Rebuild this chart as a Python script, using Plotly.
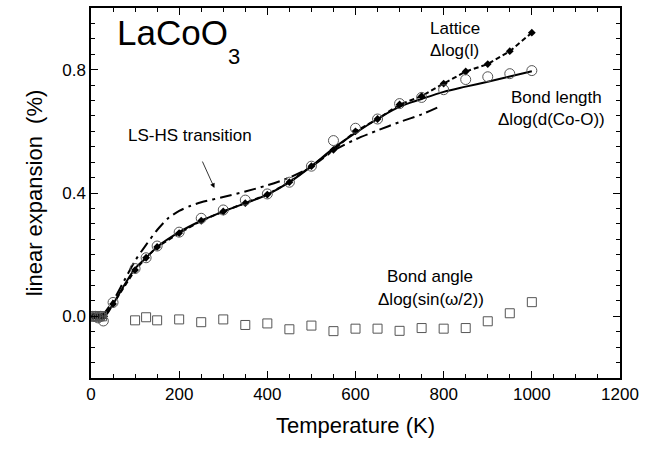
import plotly.graph_objects as go

# Bond length, Delta log(d(Co-O)) -- open circles
bond_T = [4, 10, 16, 22, 28, 50, 100, 125, 150, 200, 250, 300, 350, 400, 450, 500,
          550, 600, 650, 700, 750, 800, 850, 900, 950, 1000]
bond_v = [0.0, 0.0, -0.005, 0.0, -0.015, 0.045, 0.155, 0.19, 0.228, 0.273, 0.318, 0.345,
          0.377, 0.397, 0.435, 0.487, 0.57, 0.61, 0.64, 0.69, 0.71, 0.735, 0.768, 0.777,
          0.787, 0.797]

# Lattice, Delta log(l) -- filled diamonds
lat_T = [5, 10, 15, 20, 25, 30, 50, 100, 125, 150, 200, 250, 300, 350, 400, 450, 500,
         550, 600, 650, 700, 750, 800, 850, 900, 950, 1000]
lat_v = [0.0, 0.0, 0.0, 0.0, 0.0, 0.0, 0.04, 0.15, 0.19, 0.225, 0.27, 0.31, 0.34, 0.367,
         0.395, 0.435, 0.487, 0.54, 0.60, 0.64, 0.687, 0.714, 0.755, 0.794, 0.818, 0.86,
         0.92]

# Bond angle, Delta log(sin(omega/2)) -- open squares
ang_T = [5, 10, 15, 20, 25, 100, 125, 150, 200, 250, 300, 350, 400, 450, 500, 550, 600,
         650, 700, 750, 800, 850, 900, 950, 1000]
ang_v = [0.0, 0.0, 0.0, 0.0, 0.0, -0.013, -0.003, -0.013, -0.01, -0.019, -0.01, -0.028,
         -0.023, -0.042, -0.03, -0.048, -0.04, -0.04, -0.047, -0.038, -0.04, -0.038,
         -0.016, 0.01, 0.046]

# Smooth curve through the bond-length points
fit_T = [0, 30, 50, 75, 100, 125, 150, 200, 250, 300, 350, 400, 450, 500, 550, 600, 650,
         700, 750, 800, 850, 900, 950, 1000]
fit_v = [0.0, 0.0, 0.04, 0.1, 0.155, 0.19, 0.225, 0.273, 0.31, 0.34, 0.367, 0.395, 0.435,
         0.487, 0.545, 0.595, 0.64, 0.68, 0.705, 0.728, 0.745, 0.761, 0.778, 0.795]

# LS-HS transition model curve
lshs_T = [25, 50, 75, 100, 125, 150, 175, 200, 225, 250, 300, 350, 400, 450, 500, 550,
          600, 650, 700, 750, 790]
lshs_v = [0.0, 0.05, 0.115, 0.18, 0.232, 0.28, 0.318, 0.342, 0.358, 0.37, 0.387, 0.405,
          0.425, 0.45, 0.485, 0.537, 0.574, 0.603, 0.63, 0.655, 0.68]

x_ticks = [0, 200, 400, 600, 800, 1000, 1200]
y_ticks = [0.0, 0.4, 0.8]
y_tick_text = ["0.0", "0.4", "0.8"]

FONT = "Liberation Sans, Arial, sans-serif"

fig = go.Figure()

fig.add_trace(go.Scatter(x=lshs_T, y=lshs_v, mode="lines", line_shape="spline",
                         line=dict(color="black", width=2, dash="12px,5px,3px,5px",
                                   smoothing=0.8)))
fig.add_trace(go.Scatter(x=lat_T, y=lat_v, mode="lines+markers",
                         line=dict(color="black", width=2, dash="5px,3px"),
                         marker=dict(symbol="diamond", size=6, color="black")))
fig.add_trace(go.Scatter(x=fit_T, y=fit_v, mode="lines", line_shape="spline",
                         line=dict(color="black", width=2)))
fig.add_trace(go.Scatter(x=bond_T, y=bond_v, mode="markers",
                         marker=dict(symbol="circle-open", size=10, color="#555",
                                     line=dict(width=1))))
fig.add_trace(go.Scatter(x=ang_T, y=ang_v, mode="markers",
                         marker=dict(symbol="square-open", size=9, color="#555",
                                     line=dict(width=1))))

ann_font = dict(family=FONT, size=17, color="black")
# compound name, with the subscript set well below the baseline
fig.add_annotation(x=55, y=0.922, xanchor="left", yanchor="middle",
                   text="LaCoO", showarrow=False,
                   font=dict(family=FONT, size=35, color="black"))
fig.add_annotation(x=306, y=0.842, xanchor="left", yanchor="middle",
                   text="3", showarrow=False,
                   font=dict(family=FONT, size=22, color="black"))
fig.add_annotation(x=825, y=0.932, text="Lattice", showarrow=False, font=ann_font)
fig.add_annotation(x=825, y=0.861, text="Δlog(l)", showarrow=False, font=ann_font)
fig.add_annotation(x=1055, y=0.71, text="Bond length", showarrow=False, font=ann_font)
fig.add_annotation(x=1045, y=0.639, text="Δlog(d(Co-O))", showarrow=False, font=ann_font)
fig.add_annotation(x=770, y=0.129, text="Bond angle", showarrow=False, font=ann_font)
fig.add_annotation(x=772, y=0.055, text="Δlog(sin(ω/2))", showarrow=False, font=ann_font)
# label with its arrow pointing at the transition curve
fig.add_annotation(x=280, y=0.416, ax=-24, ay=-53, text="LS-HS transition",
                   showarrow=True, arrowhead=2, arrowsize=1.2, arrowwidth=0.8,
                   arrowcolor="black", startstandoff=17, font=ann_font)

axis_common = dict(showline=True, linecolor="black", linewidth=1.5, mirror="ticks",
                   ticks="inside", tickcolor="black", tickwidth=1.2, ticklen=7,
                   showgrid=False, zeroline=False,
                   tickfont=dict(family=FONT, size=17, color="black"))

fig.update_xaxes(range=[0, 1200], tickvals=x_ticks,
                 minor=dict(dtick=50, ticks="inside", ticklen=4, tickcolor="black",
                            tickwidth=1, showgrid=False),
                 title=dict(text="Temperature (K)", standoff=14,
                            font=dict(family=FONT, size=22, color="black")),
                 **axis_common)
fig.update_yaxes(range=[-0.2, 1.0], tickvals=y_ticks, ticktext=y_tick_text,
                 minor=dict(dtick=0.05, ticks="inside", ticklen=4, tickcolor="black",
                            tickwidth=1, showgrid=False),
                 title=dict(text="linear expansion  (%)", standoff=14,
                            font=dict(family=FONT, size=22, color="black")),
                 **axis_common)

fig.update_layout(width=645, height=449, showlegend=False,
                  plot_bgcolor="white", paper_bgcolor="white",
                  margin=dict(l=91, r=21, t=6, b=71))

fig.write_html("out.html")
